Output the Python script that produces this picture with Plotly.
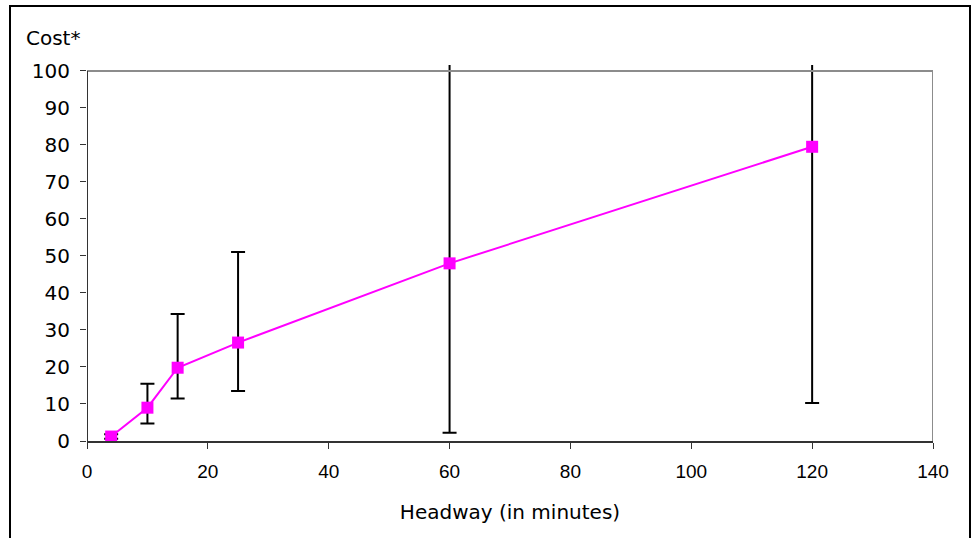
import plotly.graph_objects as go

# Headway (minutes) vs. average cost, with asymmetric error bars
headway = [4, 10, 15, 25, 60, 120]
cost = [1.2, 9.0, 19.8, 26.6, 48.0, 79.5]
err_plus = [0.6, 6.5, 14.5, 24.5, 80.0, 70.0]
err_minus = [0.6, 4.3, 8.3, 13.1, 45.8, 69.2]

x_ticks = [0, 20, 40, 60, 80, 100, 120, 140]
y_ticks = [0, 10, 20, 30, 40, 50, 60, 70, 80, 90, 100]

W, H = 972, 538
ML, MR, MT, MB = 87, 39, 65, 97
pw, ph = W - ML - MR, H - MT - MB


def px_to_paper_x(px):
    return (px - ML) / pw


def px_to_paper_y(py):
    return (H - MB - py) / ph


fig = go.Figure()
fig.add_trace(go.Scatter(
    x=headway, y=cost, mode="lines+markers",
    line=dict(color="#ff00ff", width=2),
    marker=dict(symbol="square", size=12, color="#ff00ff"),
    error_y=dict(type="data", symmetric=False, array=err_plus,
                 arrayminus=err_minus, color="black", thickness=2, width=7),
    showlegend=False,
))

shapes = [
    # outer frame of the chart
    dict(type="rect", xref="paper", yref="paper",
         x0=px_to_paper_x(10), x1=px_to_paper_x(970),
         y0=px_to_paper_y(545), y1=px_to_paper_y(6),
         line=dict(color="black", width=2), layer="below"),
    # plot box: gray top/right, dark left
    dict(type="line", xref="x", yref="y", x0=0, x1=140, y0=100, y1=100,
         line=dict(color="#8c8c8c", width=2)),
    dict(type="line", xref="x", yref="y", x0=140, x1=140, y0=0, y1=100,
         line=dict(color="#8c8c8c", width=2)),
    dict(type="line", xref="x", yref="y", x0=0, x1=0, y0=0, y1=100,
         line=dict(color="#333333", width=2)),
]

fig.update_layout(
    width=W, height=H,
    margin=dict(l=ML, r=MR, t=MT, b=MB),
    paper_bgcolor="white", plot_bgcolor="white",
    shapes=shapes,
    xaxis=dict(range=[0, 140], tickvals=x_ticks, showgrid=False, zeroline=False,
               showline=True, linecolor="#333333", linewidth=2,
               ticks="outside", ticklen=6, tickcolor="#333333", tickwidth=1,
               ticklabelstandoff=6,
               tickfont=dict(family="Liberation Sans, Arial", size=19, color="black"),
               title=dict(text="Headway (in minutes)", standoff=24,
                          font=dict(family="DejaVu Sans", size=20, color="black"))),
    yaxis=dict(range=[0, 101.6], tickvals=y_ticks, showgrid=False, zeroline=False,
               showline=False, ticks="outside", ticklen=6, tickcolor="#333333",
               tickwidth=1, ticklabelstandoff=6,
               tickfont=dict(family="DejaVu Sans", size=20, color="black")),
    annotations=[dict(text="Cost*", xref="paper", yref="paper",
                      x=px_to_paper_x(24), y=px_to_paper_y(38),
                      xanchor="left", yanchor="middle", showarrow=False,
                      font=dict(family="DejaVu Sans", size=20, color="black"))],
)

fig.write_html("out.html")
